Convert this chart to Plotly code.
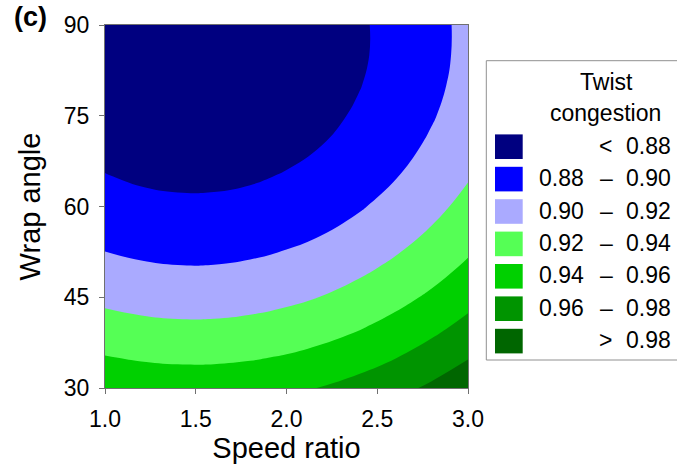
import plotly.graph_objects as go

# ---- data ----
speed_ratio = [1.0, 1.2, 1.4, 1.6, 1.8, 2.0, 2.2, 2.4, 2.6, 2.8, 3.0]
wrap_angle = [30, 35, 40, 45, 50, 55, 60, 65, 70, 75, 80, 85, 90]
twist = [
    [0.9557, 0.9529, 0.9515, 0.9516, 0.9532, 0.9562, 0.9608, 0.9668, 0.9743, 0.9833, 0.9938],
    [0.9410, 0.9382, 0.9368, 0.9369, 0.9385, 0.9415, 0.9461, 0.9521, 0.9596, 0.9686, 0.9791],
    [0.9276, 0.9248, 0.9234, 0.9235, 0.9251, 0.9282, 0.9327, 0.9387, 0.9462, 0.9552, 0.9657],
    [0.9156, 0.9127, 0.9113, 0.9114, 0.9130, 0.9161, 0.9206, 0.9267, 0.9342, 0.9431, 0.9536],
    [0.9048, 0.9020, 0.9006, 0.9007, 0.9023, 0.9054, 0.9099, 0.9159, 0.9234, 0.9324, 0.9429],
    [0.8954, 0.8926, 0.8912, 0.8913, 0.8929, 0.8960, 0.9005, 0.9065, 0.9140, 0.9230, 0.9335],
    [0.8874, 0.8845, 0.8831, 0.8832, 0.8848, 0.8879, 0.8924, 0.8984, 0.9059, 0.9149, 0.9254],
    [0.8806, 0.8777, 0.8764, 0.8765, 0.8780, 0.8811, 0.8857, 0.8917, 0.8992, 0.9082, 0.9186],
    [0.8752, 0.8723, 0.8709, 0.8710, 0.8726, 0.8757, 0.8802, 0.8862, 0.8938, 0.9027, 0.9132],
    [0.8711, 0.8682, 0.8668, 0.8669, 0.8685, 0.8716, 0.8761, 0.8821, 0.8896, 0.8986, 0.9091],
    [0.8683, 0.8654, 0.8640, 0.8641, 0.8657, 0.8688, 0.8733, 0.8794, 0.8869, 0.8958, 0.9063],
    [0.8668, 0.8640, 0.8626, 0.8627, 0.8643, 0.8673, 0.8719, 0.8779, 0.8854, 0.8944, 0.9049],
    [0.8667, 0.8638, 0.8625, 0.8626, 0.8641, 0.8672, 0.8717, 0.8778, 0.8853, 0.8943, 0.9047],
]
levels = [0.88, 0.90, 0.92, 0.94, 0.96, 0.98]
band_colors = ["#000080", "#0000FF", "#AAAAFF", "#55FF55", "#00D000", "#009400", "#006600"]
x_ticks = [1.0, 1.5, 2.0, 2.5, 3.0]
y_ticks = [30, 45, 60, 75, 90]
legend_title = ["Twist", "congestion"]
panel_label = "(c)"

FONT = "Liberation Sans, Arial, sans-serif"
W, H = 677, 467
L, T, PW, PH = 105, 25, 363, 363   # plot area in window pixels

def px(xp):
    return (xp - L) / PW

def py(yp):
    return (T + PH - yp) / PH

n = len(band_colors)
colorscale = [[i / (n - 1), c] for i, c in enumerate(band_colors)]

fig = go.Figure()
fig.add_trace(go.Contour(
    x=speed_ratio, y=wrap_angle, z=twist,
    autocontour=False,
    contours=dict(start=levels[0], end=levels[-1], size=levels[1] - levels[0],
                  coloring="fill", showlines=False),
    line=dict(width=0, smoothing=1.3),
    colorscale=colorscale, showscale=False, hoverinfo="skip",
))

shapes = []
annotations = []

# legend box
shapes.append(dict(type="rect", xref="paper", yref="paper",
                   x0=px(486.3), x1=px(700), y0=py(360), y1=py(60.7),
                   line=dict(color="#909090", width=1), fillcolor="rgba(0,0,0,0)"))

annotations.append(dict(text=legend_title[0], xref="paper", yref="paper",
                        x=px(606), y=py(82), xanchor="center", yanchor="middle",
                        showarrow=False, font=dict(family=FONT, size=23, color="black")))
annotations.append(dict(text=legend_title[1], xref="paper", yref="paper",
                        x=px(605), y=py(113), xanchor="center", yanchor="middle",
                        showarrow=False, font=dict(family=FONT, size=23, color="black")))

for i, c in enumerate(band_colors):
    cy = 146.7 + 32.4 * i
    shapes.append(dict(type="rect", xref="paper", yref="paper",
                       x0=px(495), x1=px(522.7), y0=py(cy + 12.3), y1=py(cy - 12.3),
                       line=dict(width=0), fillcolor=c, layer="above"))
    tf = dict(family=FONT, size=23, color="black")
    ty = py(cy - 1)
    if i == 0:
        annotations.append(dict(text="<", xref="paper", yref="paper", x=px(605), y=ty,
                                xanchor="center", yanchor="middle", showarrow=False, font=tf))
        annotations.append(dict(text=f"{levels[0]:.2f}", xref="paper", yref="paper", x=px(673), y=ty,
                                xanchor="right", yanchor="middle", showarrow=False, font=tf))
    elif i == n - 1:
        annotations.append(dict(text=">", xref="paper", yref="paper", x=px(605), y=ty,
                                xanchor="center", yanchor="middle", showarrow=False, font=tf))
        annotations.append(dict(text=f"{levels[-1]:.2f}", xref="paper", yref="paper", x=px(673), y=ty,
                                xanchor="right", yanchor="middle", showarrow=False, font=tf))
    else:
        annotations.append(dict(text=f"{levels[i-1]:.2f}", xref="paper", yref="paper", x=px(536.5), y=ty,
                                xanchor="left", yanchor="middle", showarrow=False, font=tf))
        annotations.append(dict(text="\u2013", xref="paper", yref="paper", x=px(606), y=ty,
                                xanchor="center", yanchor="middle", showarrow=False, font=tf))
        annotations.append(dict(text=f"{levels[i]:.2f}", xref="paper", yref="paper", x=px(673), y=ty,
                                xanchor="right", yanchor="middle", showarrow=False, font=tf))

annotations.append(dict(text="<b>" + panel_label + "</b>", xref="paper", yref="paper",
                        x=px(12), y=py(17), xanchor="left", yanchor="middle",
                        showarrow=False, font=dict(family=FONT, size=27, color="black")))

axis_common = dict(showgrid=False, zeroline=False, showline=True, mirror=True,
                   automargin=False,
                   linecolor="#707070", linewidth=1, ticks="outside", ticklen=5,
                   tickcolor="#707070", ticklabelstandoff=5,
                   tickfont=dict(family=FONT, size=23, color="black"))

fig.update_layout(
    width=W, height=H, autosize=False,
    margin=dict(l=L, r=W - L - PW, t=T, b=H - T - PH, pad=0, autoexpand=False),
    paper_bgcolor="white", plot_bgcolor="white",
    xaxis=dict(range=[1, 3], tickvals=x_ticks, ticktext=[f"{v:.1f}" for v in x_ticks],
               title=dict(text="Speed ratio", font=dict(family=FONT, size=29, color="black"), standoff=2),
               **axis_common),
    yaxis=dict(range=[30, 90], tickvals=y_ticks, ticktext=[str(v) for v in y_ticks],
               title=dict(text="Wrap angle", font=dict(family=FONT, size=29, color="black"), standoff=14),
               **axis_common),
    shapes=shapes, annotations=annotations, showlegend=False,
)

# remove the default page margin so the figure fills the window exactly
fig.write_html("out.html", config={"displayModeBar": False},
               post_script="document.body.style.margin='0';document.body.style.overflow='hidden';")
